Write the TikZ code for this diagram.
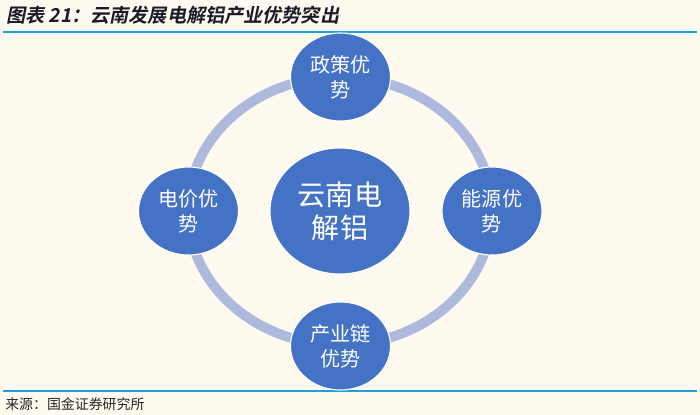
\documentclass[tikz,border=0pt]{standalone}
\usepackage{fontspec}
\usepackage{xcolor}
\definecolor{bgcream}{HTML}{FEFAF0}
\definecolor{hubblue}{HTML}{4472C4}
\definecolor{ringblue}{HTML}{ADB9DD}
\definecolor{rulecyan}{HTML}{1EA0DC}
\definecolor{titledark}{HTML}{1C1C28}
\newfontfamily\cjk{Noto Sans CJK SC}
\newfontfamily\cjktitle{Noto Sans CJK SC Bold}[FakeSlant=0.2]
\usetikzlibrary{shapes.geometric}

\begin{document}
\begin{tikzpicture}[x=0.025cm, y=-0.025cm,
  advantage/.style={ellipse, fill=hubblue, draw=white, line width=0.8pt,
    inner sep=0pt, minimum width=2.5cm, minimum height=2.2cm, text=white,
    align=center, font=\cjk\fontsize{14.3}{17.8}\selectfont}]
  % Background and frame
  \fill[bgcream] (0,0) rectangle (700,415);
  \useasboundingbox (0,0) rectangle (700,415);
  \node[anchor=west, inner sep=0pt, text=titledark,
        font=\cjktitle\fontsize{13.6}{16}\selectfont] (title) at (6,15)
        {图表 21：云南发展电解铝产业优势突出};
  \draw[rulecyan, line width=1.4pt] (3,32) -- (697,32);
  \draw[rulecyan, line width=1.4pt] (3,391) -- (697,391);
  \node[anchor=west, inner sep=0pt, text=black!85,
        font=\cjk\fontsize{9.9}{12}\selectfont] (source) at (5,404)
        {来源：国金证券研究所};
  % Hub
  \node[advantage, minimum width=3.5cm, minimum height=3.15cm,
        font=\cjk\fontsize{20}{23.5}\selectfont] (hub) at (340,211)
        {云南电\\解铝};
  % Ring behind the four advantages
  \draw[ringblue, line width=7pt] (hub) ellipse [x radius=152, y radius=134];
  % Four advantages
  \node[advantage] (policy) at (340.5,77)  {政策优\\势};
  \node[advantage] (energy) at (492,211)   {能源优\\势};
  \node[advantage] (chain)  at (340.5,346) {产业链\\优势};
  \node[advantage] (price)  at (188.5,211) {电价优\\势};
\end{tikzpicture}
\end{document}
